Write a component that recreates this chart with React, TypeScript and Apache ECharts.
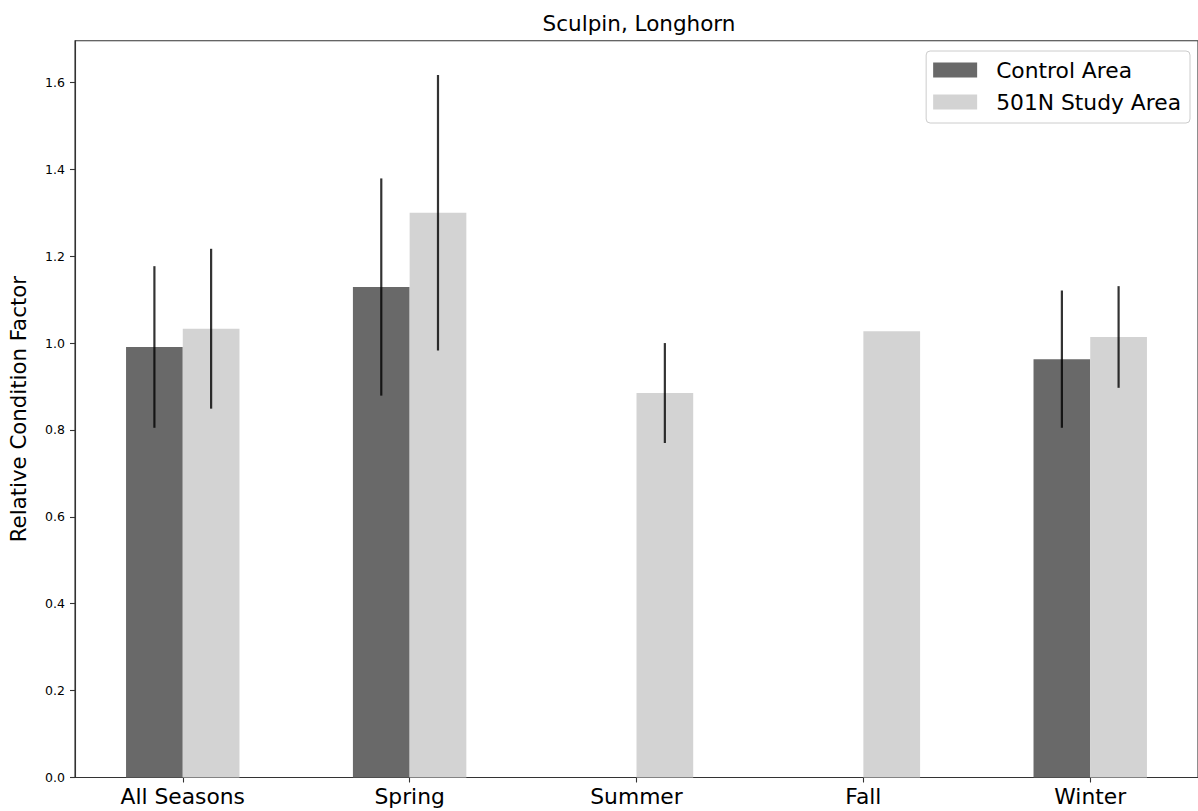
import React, { useEffect, useRef } from "react";
import * as echarts from "echarts";

const categories = ["All Seasons", "Spring", "Summer", "Fall", "Winter"];
const controlMeans: (number | null)[] = [0.991, 1.129, null, null, 0.963];
const controlErr: (number | null)[] = [0.186, 0.25, null, null, 0.158];
const studyMeans: (number | null)[] = [1.033, 1.3, 0.885, 1.027, 1.014];
const studyErr: (number | null)[] = [0.184, 0.317, 0.115, null, 0.117];
const yTicks = [0, 0.2, 0.4, 0.6, 0.8, 1.0, 1.2, 1.4, 1.6];
const xTicks = [0, 1, 2, 3, 4];

const FONT = "DejaVu Sans";
const BAR_W = 0.25;

function makeRender(side: number, color: string) {
  return (params: any, api: any) => {
    const idx = api.value(0);
    const v = api.value(1);
    const e = api.value(2);
    const x0 = side < 0 ? idx - BAR_W : idx;
    const x1 = side < 0 ? idx : idx + BAR_W;
    const pTop = api.coord([x0, v]);
    const pBot = api.coord([x1, 0]);
    const children: any[] = [
      {
        type: "rect",
        shape: { x: pTop[0], y: pTop[1], width: pBot[0] - pTop[0], height: pBot[1] - pTop[1] },
        style: { fill: color },
      },
    ];
    if (e != null && !isNaN(e) && e > 0) {
      const xc = idx + side * BAR_W / 2;
      const a = api.coord([xc, v + e]);
      const b = api.coord([xc, v - e]);
      children.push({
        type: "line",
        shape: { x1: a[0], y1: a[1], x2: b[0], y2: b[1] },
        style: { stroke: "rgba(0,0,0,0.8)", lineWidth: 2.2 },
      });
    }
    return { type: "group", children };
  };
}

function buildData(means: (number | null)[], errs: (number | null)[]) {
  const out: any[] = [];
  means.forEach((m, i) => {
    if (m != null) out.push([i, m, errs[i] == null ? 0 : errs[i]]);
  });
  return out;
}

export default function App() {
  const ref = useRef<HTMLDivElement>(null);
  useEffect(() => {
    if (!ref.current) return;
    const chart = echarts.init(ref.current, null, { renderer: "svg" });
    const controlColor = "#696969";
    const studyColor = "#d3d3d3";
    const axisColor = "#333";
    chart.setOption({
      animation: false,
      backgroundColor: "#ffffff",
      textStyle: { fontFamily: FONT },
      title: {
        text: "Sculpin, Longhorn",
        left: 634,
        top: 7,
        textAlign: "center",
        textStyle: { fontFamily: FONT, fontSize: 21.5, fontWeight: "normal", color: "#000" },
      },
      legend: {
        right: 8,
        top: 51,
        orient: "vertical",
        itemWidth: 44,
        itemHeight: 15,
        itemGap: 10,
        padding: [8, 9, 10, 7],
        borderColor: "#cccccc",
        borderWidth: 1,
        borderRadius: 4,
        textStyle: { fontFamily: FONT, fontSize: 21.8, color: "#000", padding: [0, 0, 0, 14] },
        data: [
          { name: "Control Area", icon: "rect" },
          { name: "501N Study Area", icon: "rect" },
        ],
      },
      grid: {
        left: 71.7,
        top: 40.7,
        width: 1127.5,
        height: 736.8,
        show: true,
        borderColor: axisColor,
        borderWidth: 1.1,
        backgroundColor: "transparent",
      },
      xAxis: {
        type: "value",
        min: -0.475,
        max: 4.475,
        splitLine: { show: false },
        axisLine: { show: true, onZero: false, lineStyle: { color: axisColor, width: 1.1 } },
        axisTick: { show: true, customValues: xTicks, length: 5, lineStyle: { color: axisColor, width: 1.1 } },
        axisLabel: {
          customValues: xTicks,
          formatter: (v: number) => categories[Math.round(v)] ?? "",
          fontFamily: FONT,
          fontSize: 21.8,
          color: "#000",
          margin: 7.5,
        },
      },
      yAxis: {
        type: "value",
        min: 0,
        max: 1.696,
        name: "Relative Condition Factor",
        nameLocation: "middle",
        nameGap: 46,
        nameRotate: 90,
        nameTextStyle: { fontFamily: FONT, fontSize: 21.3, color: "#000" },
        splitLine: { show: false },
        axisLine: { show: true, onZero: false, lineStyle: { color: axisColor, width: 1.1 } },
        axisTick: { show: true, customValues: yTicks, length: 5, lineStyle: { color: axisColor, width: 1.1 } },
        axisLabel: {
          customValues: yTicks,
          formatter: (v: number) => v.toFixed(1),
          fontFamily: FONT,
          fontSize: 12.5,
          color: "#000",
          margin: 10,
        },
      },
      series: [
        {
          name: "Control Area",
          type: "custom",
          itemStyle: { color: controlColor },
          encode: { x: 0, y: 1 },
          renderItem: makeRender(-1, controlColor),
          data: buildData(controlMeans, controlErr),
        },
        {
          name: "501N Study Area",
          type: "custom",
          itemStyle: { color: studyColor },
          encode: { x: 0, y: 1 },
          renderItem: makeRender(1, studyColor),
          data: buildData(studyMeans, studyErr),
        },
      ],
    });
    return () => chart.dispose();
  }, []);
  return (
    <div
      ref={ref}
      style={{ position: "absolute", left: 0, top: 0, width: 1198, height: 811 }}
    />
  );
}
